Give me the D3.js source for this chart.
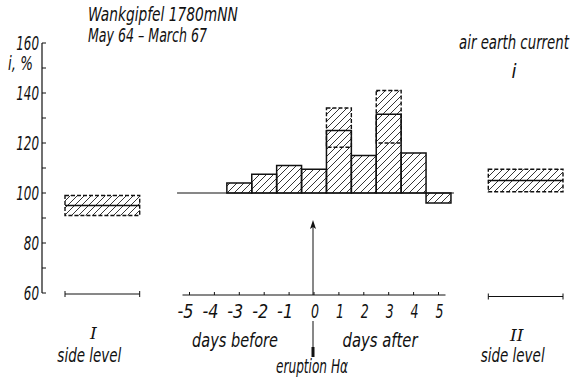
<!DOCTYPE html>
<html>
<head>
<meta charset="utf-8">
<script src="https://cdn.jsdelivr.net/npm/d3@7"></script>
<style>
  body { margin: 0; background: #fff; }
  svg text { font-family: "DejaVu Sans Condensed", "Liberation Sans", sans-serif; font-style: italic; fill: #111; }
</style>
</head>
<body>
<div id="chart"></div>
<script>
// days relative to the H-alpha eruption
var days = [-5, -4, -3, -2, -1, 0, 1, 2, 3, 4, 5];
var values = [100, 100, 104, 107.5, 111, 109.5, 125, 115, 131.5, 116, 96];
// dashed ranges on the two peak days
var rangeDays = [1, 3];
var rangeLow = [118.3, 120];
var rangeHigh = [134, 141];
// side levels
var sideNames = ["I", "II"];
var sideDays = [-8.5, 8.5];
var sideMean = [95, 105];
var sideLow = [91, 100.5];
var sideHigh = [99, 109.5];
var yTicks = [60, 80, 100, 120, 140, 160];

var w = 576, h = 387;
var svg = d3.select("#chart").append("svg")
    .attr("width", w)
    .attr("height", h);

var x = d3.scaleLinear().domain([0, 1]).range([314, 338.9]);
var y = d3.scaleLinear().domain([60, 160]).range([293, 43]);
var half = (x(1) - x(0)) / 2;

// squeeze text to the narrow lettering of the original
function label(px, py, str, len, anchor) {
  var t = svg.append("text")
      .attr("font-size", 19)
      .attr("text-anchor", anchor || "start")
      .text(str);
  var k = len / t.node().getComputedTextLength();
  t.attr("transform", "translate(" + px + "," + py + ") scale(" + k + ",1)");
  return t;
}

var defs = svg.append("defs");
var pat = defs.append("pattern")
    .attr("id", "hatch")
    .attr("patternUnits", "userSpaceOnUse")
    .attr("width", 7)
    .attr("height", 7);
pat.append("path")
    .attr("d", "M-1,8 L8,-1 M-1,1 L1,-1 M6,8 L8,6")
    .attr("stroke", "#111")
    .attr("stroke-width", 0.85);

// y axis
var yAxis = svg.append("g");
yAxis.append("line")
    .attr("x1", 42).attr("x2", 42)
    .attr("y1", y(160)).attr("y2", y(60))
    .attr("stroke", "#111").attr("stroke-width", 1.2);
yAxis.selectAll("line.tick")
    .data(d3.range(60, 161, 10))
    .enter().append("line")
    .attr("class", "tick")
    .attr("x1", 42).attr("x2", 46)
    .attr("y1", function (d) { return y(d); })
    .attr("y2", function (d) { return y(d); })
    .attr("stroke", "#111").attr("stroke-width", 1);
yTicks.forEach(function (d) {
  label(39, y(d) + 7, String(d), String(d).length * 7.6, "end");
});
label(8, 70, "i, %", 25);

// titles
label(88, 21, "Wankgipfel  1780mNN", 150);
label(88, 42, "May 64 \u2013 March 67", 119);
label(514, 49, "air earth current", 110, "middle");
label(514, 78, "i", 5, "middle");

// baseline
svg.append("line")
    .attr("x1", x(-5) - half).attr("x2", x(5) + half + 3)
    .attr("y1", y(100)).attr("y2", y(100))
    .attr("stroke", "#111").attr("stroke-width", 1.2);

// hatch fill, including dashed ranges
var barData = days.map(function (d, i) {
  var j = rangeDays.indexOf(d);
  return { day: d, v: values[i], top: j >= 0 ? rangeHigh[j] : values[i] };
});
svg.selectAll("rect.fill")
    .data(barData)
    .enter().append("rect")
    .attr("class", "fill")
    .attr("x", function (d) { return x(d.day) - half; })
    .attr("width", half * 2)
    .attr("y", function (d) { return y(Math.max(d.top, 100)); })
    .attr("height", function (d) { return Math.abs(y(d.top) - y(100)); })
    .attr("fill", "url(#hatch)");

// solid bar outlines
svg.selectAll("rect.bar")
    .data(barData.filter(function (d) { return d.v !== 100; }))
    .enter().append("rect")
    .attr("class", "bar")
    .attr("x", function (d) { return x(d.day) - half; })
    .attr("width", half * 2)
    .attr("y", function (d) { return y(Math.max(d.v, 100)); })
    .attr("height", function (d) { return Math.abs(y(d.v) - y(100)); })
    .attr("fill", "none")
    .attr("stroke", "#111")
    .attr("stroke-width", 1.5);

// dashed ranges
svg.selectAll("rect.range")
    .data(rangeDays)
    .enter().append("rect")
    .attr("class", "range")
    .attr("x", function (d) { return x(d) - half; })
    .attr("width", half * 2)
    .attr("y", function (d, i) { return y(rangeHigh[i]); })
    .attr("height", function (d, i) { return y(rangeLow[i]) - y(rangeHigh[i]); })
    .attr("fill", "none")
    .attr("stroke", "#111")
    .attr("stroke-width", 1.4)
    .attr("stroke-dasharray", "4,2");

// side levels
var sh = (x(1.5) - x(0));
svg.selectAll("rect.sidefill")
    .data(sideDays)
    .enter().append("rect")
    .attr("x", function (d) { return x(d) - sh; })
    .attr("width", sh * 2)
    .attr("y", function (d, i) { return y(sideHigh[i]); })
    .attr("height", function (d, i) { return y(sideLow[i]) - y(sideHigh[i]); })
    .attr("fill", "url(#hatch)")
    .attr("stroke", "#111")
    .attr("stroke-width", 1.4)
    .attr("stroke-dasharray", "4,2");
svg.selectAll("line.sidemean")
    .data(sideDays)
    .enter().append("line")
    .attr("x1", function (d) { return x(d) - sh; })
    .attr("x2", function (d) { return x(d) + sh; })
    .attr("y1", function (d, i) { return y(sideMean[i]); })
    .attr("y2", function (d, i) { return y(sideMean[i]); })
    .attr("stroke", "#111").attr("stroke-width", 1.5);

// brackets under side levels
sideDays.forEach(function (d, i) {
  var yy = 294 + i * 2.5;
  var g = svg.append("g").attr("stroke", "#111").attr("stroke-width", 1);
  g.append("line").attr("x1", x(d) - sh).attr("x2", x(d) + sh).attr("y1", yy).attr("y2", yy);
  g.append("line").attr("x1", x(d) - sh).attr("x2", x(d) - sh).attr("y1", yy - 3).attr("y2", yy + 3);
  g.append("line").attr("x1", x(d) + sh).attr("x2", x(d) + sh).attr("y1", yy - 3).attr("y2", yy + 3);
  svg.append("text")
      .attr("x", x(d) - 9).attr("y", 339 + i * 2)
      .attr("text-anchor", "middle").attr("font-size", 17)
      .style("font-family", "'DejaVu Serif', serif")
      .text(sideNames[i]);
  label(x(d) - 13, 362, "side level", 64, "middle");
});

// x axis
var xAxis = svg.append("g");
xAxis.append("line")
    .attr("x1", x(-5) - 7).attr("x2", x(5) + 7)
    .attr("y1", 295).attr("y2", 295)
    .attr("stroke", "#111").attr("stroke-width", 1);
xAxis.selectAll("line.tick")
    .data(days)
    .enter().append("line")
    .attr("x1", function (d) { return x(d); })
    .attr("x2", function (d) { return x(d); })
    .attr("y1", 292).attr("y2", 295)
    .attr("stroke", "#111").attr("stroke-width", 1);
days.forEach(function (d) {
  if (d < 0) label(x(d) + 4, 318, "-" + (-d), 16, "end");
  else label(x(d) + 1, 318, String(d), 8, "middle");
});

label(235, 347, "days before", 86, "middle");
label(380, 347, "days after", 75, "middle");
label(312, 373, "eruption H\u03b1", 72, "middle");

// eruption arrow
svg.append("line")
    .attr("x1", x(0) - 1).attr("x2", x(0) - 1)
    .attr("y1", 226).attr("y2", 295)
    .attr("stroke", "#111").attr("stroke-width", 1);
svg.append("path")
    .attr("d", "M" + (x(0) - 1) + ",220 l-3,9 l3,-2 l3,2 z")
    .attr("fill", "#111");
svg.append("line")
    .attr("x1", x(0) - 1).attr("x2", x(0) - 1)
    .attr("y1", 321).attr("y2", 347)
    .attr("stroke", "#111").attr("stroke-width", 1);
svg.append("rect")
    .attr("x", x(0) - 2.5).attr("y", 347)
    .attr("width", 3).attr("height", 10)
    .attr("fill", "#111");
</script>
</body>
</html>
